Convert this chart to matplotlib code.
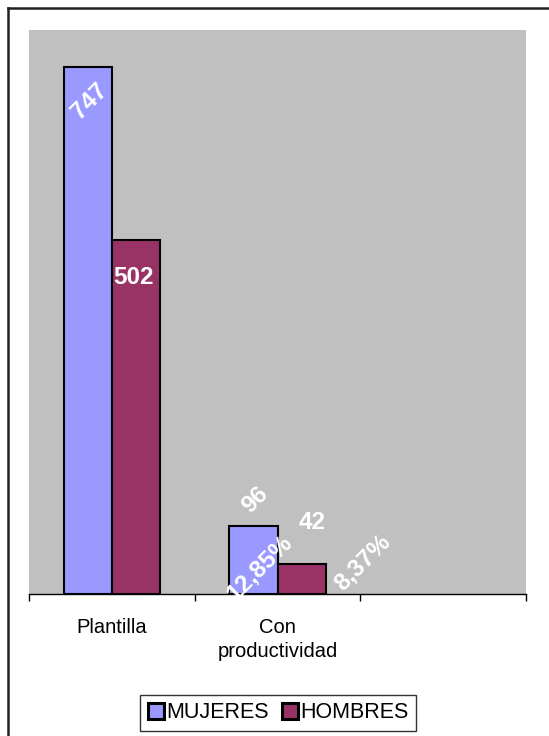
import numpy as np
import matplotlib
matplotlib.use("Agg")
import matplotlib.pyplot as plt
from matplotlib.lines import Line2D

plt.rcParams['font.family'] = ['Liberation Sans', 'DejaVu Sans']

# data
categories = ['Plantilla', 'Con\nproductividad', '']
mujeres = [747, 96]
hombres = [502, 42]
pct_mujeres = ['', '12,85%']
pct_hombres = ['', '8,37%']

col_m = '#9999FF'
col_h = '#993366'

fig = plt.figure(figsize=(5.49, 7.36), dpi=100)
ax = fig.add_axes([29/549, 1-594/736, (526-29)/549, (594-30)/736])
ax.set_facecolor('#C0C0C0')

w = 0.29
x = np.arange(len(mujeres)) + 0.5
bm = ax.bar(x - w/2, mujeres, w, color=col_m, edgecolor='black', linewidth=1.5, label='MUJERES')
bh = ax.bar(x + w/2, hombres, w, color=col_h, edgecolor='black', linewidth=1.5, label='HOMBRES')

ax.set_xlim(0, 3)
ax.set_ylim(0, 800)
ax.set_yticks([])
ax.set_xticks([0, 1, 2, 3])
ax.set_xticklabels([])
ax.set_xticks(np.arange(3) + 0.5, minor=True)
ax.set_xticklabels(categories, minor=True, fontsize=14.5, linespacing=1.35)
ax.tick_params(axis='x', which='major', direction='out', length=5, width=1)
ax.tick_params(axis='x', which='minor', length=0, pad=17)
for s in ['top', 'right', 'left']:
    ax.spines[s].set_visible(False)
ax.spines['bottom'].set_linewidth(1)

lbl = dict(color='white', fontweight='bold', fontsize=17.5, ha='center', va='center',
           textcoords='offset pixels')

# value labels (positions imitate the original spreadsheet chart)
ax.annotate(str(mujeres[0]), (x[0] - w/2, mujeres[0]), xytext=(2, -34), rotation=45, **lbl)
ax.annotate(str(hombres[0]), (x[0] + w/2, hombres[0]), xytext=(-2, -37), **lbl)
ax.annotate(str(mujeres[1]), (x[1] - w/2, mujeres[1]), xytext=(2, 26), rotation=45, **lbl)
ax.annotate(str(hombres[1]), (x[1] + w/2, hombres[1]), xytext=(11, 42), **lbl)
ax.annotate(pct_mujeres[1], (x[1] - w/2, 0), xytext=(6, 26), rotation=45, **lbl)
ax.annotate(pct_hombres[1], (x[1] + w/2, 0), xytext=(61, 31), rotation=45, **lbl)

leg = fig.legend(handles=[bm, bh], loc='center', bbox_to_anchor=(278/549, 1-713/736),
                 ncol=2, fontsize=15.5, frameon=True, fancybox=False,
                 handlelength=0.75, handleheight=0.75, handletextpad=0.1,
                 columnspacing=0.6, borderpad=0.35)
leg.get_frame().set_edgecolor('black')
leg.get_frame().set_linewidth(1)
for h in leg.legend_handles:
    h.set_linewidth(2.2)

# outer chart border (left and top visible)
fig.add_artist(Line2D([7.5/549, 7.5/549], [0, 1-8/736], transform=fig.transFigure,
                      color='#222222', linewidth=1.8))
fig.add_artist(Line2D([7.5/549, 1], [1-8/736, 1-8/736], transform=fig.transFigure,
                      color='#222222', linewidth=1.8))

fig.savefig('out.png', dpi=100)
